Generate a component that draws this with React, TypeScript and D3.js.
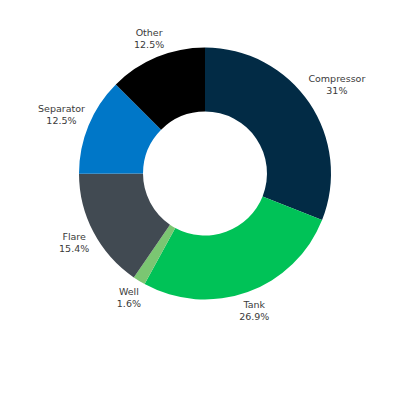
import { useEffect, useRef } from "react";
import * as d3 from "d3";

const categories = ["Compressor", "Tank", "Well", "Flare", "Separator", "Other"];
const values = [31, 26.9, 1.6, 15.4, 12.5, 12.5];
const colors = ["#022b45", "#00c257", "#7bc672", "#414a52", "#0077c8", "#000000"];

export default function App() {
  const svgRef = useRef<SVGSVGElement>(null);

  useEffect(() => {
    if (!svgRef.current) return;
    const svg = d3.select(svgRef.current);
    svg.selectAll("*").remove();

    const cx = 205;
    const cy = 173.5;
    const outer = 126;
    const inner = 62;

    const data = categories.map((name, i) => ({ name, value: values[i], color: colors[i] }));
    const pie = d3
      .pie<(typeof data)[0]>()
      .sort(null)
      .value((d) => d.value);
    const arcs = pie(data);

    const arc = d3
      .arc<d3.PieArcDatum<(typeof data)[0]>>()
      .innerRadius(inner)
      .outerRadius(outer);

    const g = svg.append("g").attr("transform", `translate(${cx},${cy})`);

    g.selectAll("path")
      .data(arcs)
      .enter()
      .append("path")
      .attr("d", arc)
      .attr("fill", (d) => d.data.color);

    // 标签
    arcs.forEach((d) => {
      const a = (d.startAngle + d.endAngle) / 2;
      const sx = Math.sin(a);
      const sy = -Math.cos(a);
      const t = g
        .append("text")
        .attr("text-anchor", "middle")
        .style("font-family", "'DejaVu Sans', sans-serif")
        .style("font-size", "9.5px")
        .style("fill", "#3a3a3a");
      t.append("tspan").attr("x", 0).attr("y", -6).attr("dominant-baseline", "central").text(d.data.name);
      t.append("tspan").attr("x", 0).attr("y", 6).attr("dominant-baseline", "central").text(`${d.data.value}%`);
      const bb = (t.node() as SVGTextElement).getBBox();
      const hw = bb.width / 2;
      const hh = 12;
      const r = outer + 3 + hw * Math.abs(sx) + hh * Math.abs(sy);
      t.attr("transform", `translate(${r * sx},${r * sy})`);
    });
  }, []);

  return (
    <svg
      ref={svgRef}
      width={400}
      height={400}
      style={{ position: "absolute", left: 0, top: 0, background: "#fff" }}
    />
  );
}
